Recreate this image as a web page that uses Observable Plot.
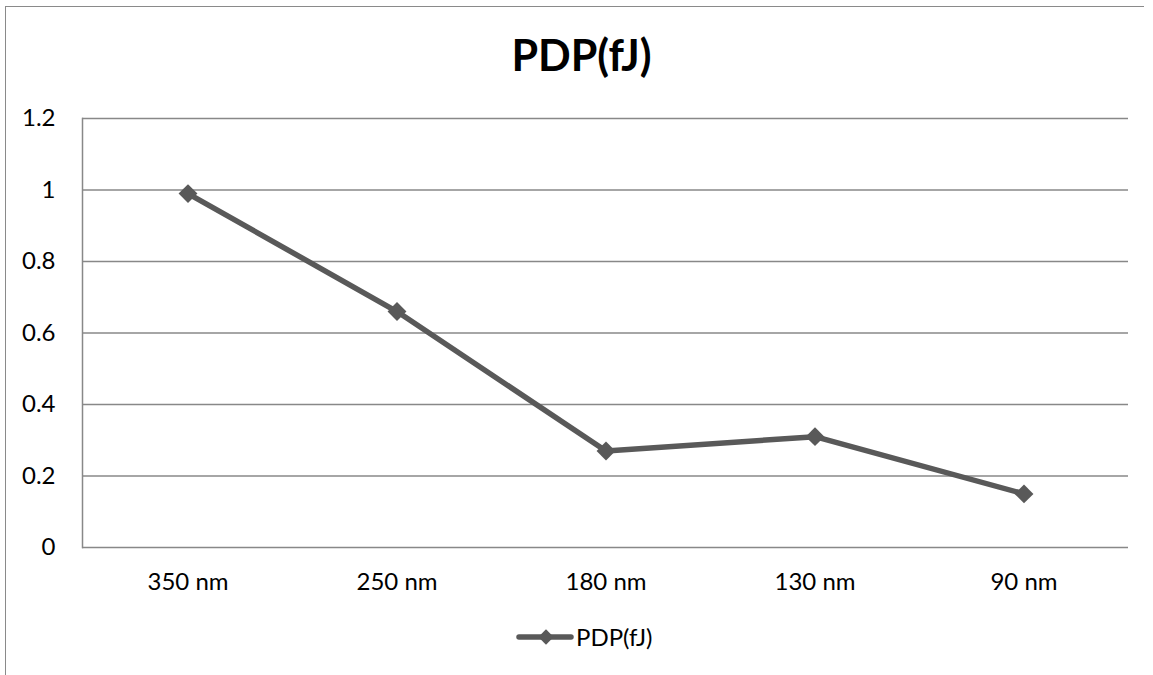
<!DOCTYPE html>
<html>
<head>
<meta charset="utf-8">
<script src="https://cdn.jsdelivr.net/npm/d3@7"></script>
<script src="https://cdn.jsdelivr.net/npm/@observablehq/plot@0.6"></script>
<style>
  html, body { margin: 0; padding: 0; background: #fff; }
  body { width: 1153px; height: 675px; position: relative; overflow: hidden; font-family: Lato, "Open Sans", sans-serif; }
  #frame { position: absolute; left: 5px; top: 6px; width: 1138px; height: 700px;
           border-top: 1.5px solid #8a8a8a; border-left: 1.5px solid #8a8a8a; }
  #title { position: absolute; left: 0; width: 1163px; top: 29px; text-align: center;
           font-weight: bold; font-size: 43px; line-height: 52px; color: #000; }
  #chart { position: absolute; left: 0; top: 100px; }
  #legend { position: absolute; left: 515px; top: 622px; display: flex; align-items: center;
            font-size: 24px; color: #000; line-height: 30px; }
</style>
</head>
<body>
<div id="frame"></div>
<div id="title">PDP(fJ)</div>
<div id="chart"></div>
<div id="legend"></div>
<script>
// Process nodes and power-delay product (fJ)
const nodes = ["350 nm", "250 nm", "180 nm", "130 nm", "90 nm"];
const pdp = [0.99, 0.66, 0.27, 0.31, 0.15];
const yTicks = [0, 0.2, 0.4, 0.6, 0.8, 1, 1.2];
const seriesName = "PDP(fJ)";

const lineColor = "#595959";
const gridColor = "#888888";

const data = nodes.map((node, i) => ({node, pdp: pdp[i]}));

const chart = Plot.plot({
  width: 1153,
  height: 520,
  marginTop: 18,
  marginBottom: 73,
  marginLeft: 82,
  marginRight: 25,
  style: {fontFamily: "Lato, 'Open Sans', sans-serif", fontSize: "24px", color: "#000", background: "transparent"},
  x: {type: "band", domain: nodes, padding: 0},
  y: {domain: [0, 1.2]},
  marks: [
    Plot.gridY(yTicks, {stroke: gridColor, strokeOpacity: 1, strokeWidth: 1.5}),
    Plot.frame({anchor: "left", stroke: gridColor, strokeWidth: 1.5}),
    Plot.axisY(yTicks, {tickSize: 0, tickPadding: 27, fontSize: 24, label: null,
      tickFormat: d => String(d)}),
    Plot.axisX({tickSize: 0, tickPadding: 25, fontSize: 24, label: null}),
    Plot.line(data, {x: "node", y: "pdp", stroke: lineColor, strokeWidth: 5.5, strokeLinejoin: "round"}),
    Plot.dot(data, {x: "node", y: "pdp", symbol: "diamond2", r: 8.5, fill: lineColor, stroke: null})
  ]
});
document.getElementById("chart").appendChild(chart);

// Legend: line swatch with a diamond, then the series name
const legend = d3.select("#legend");
const sw = legend.append("svg").attr("width", 60).attr("height", 30);
sw.append("line").attr("x1", 4).attr("x2", 56).attr("y1", 15).attr("y2", 15)
  .attr("stroke", lineColor).attr("stroke-width", 5.5).attr("stroke-linecap", "round");
sw.append("path").attr("d", d3.symbol(d3.symbolDiamond2, 150)())
  .attr("transform", "translate(31,15)").attr("fill", lineColor);
legend.append("span").text(seriesName).style("margin-left", "1px");
</script>
</body>
</html>
